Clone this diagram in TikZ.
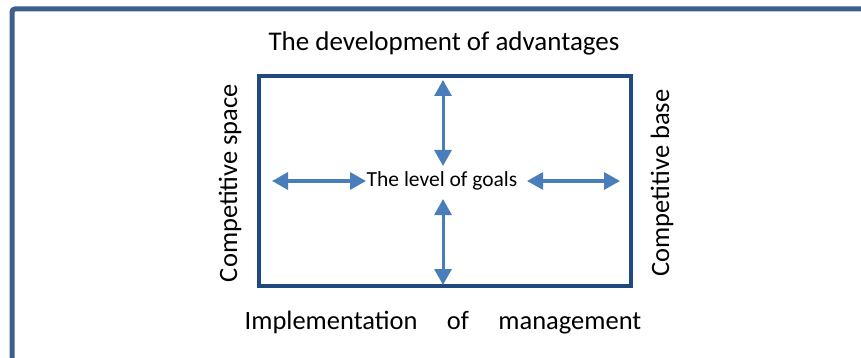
\documentclass[tikz,border=0pt]{standalone}
\usepackage{fontspec}
\setmainfont{Carlito}
\usetikzlibrary{arrows.meta}
\definecolor{frameblue}{HTML}{3D5F8E}
\definecolor{boxblue}{HTML}{1F4A80}
\definecolor{arrowblue}{HTML}{4A7EBB}
\tikzset{
  dbl/.style={arrowblue,line width=3pt,{Triangle[length=16pt,width=17pt]}-{Triangle[length=16pt,width=17pt]}},
  lbl/.style={inner sep=0pt,font=\fontsize{26.5}{30}\selectfont},
}
\begin{document}
\begin{tikzpicture}[x=1pt,y=-1pt]
\useasboundingbox (0,0) rectangle (861,358);
\clip (0,0) rectangle (861,358);
\draw[frameblue,line width=5pt,rounded corners=3pt] (12,9) rectangle (900,420);
\node[draw=boxblue,line width=4.8pt,minimum width=372pt,minimum height=210pt,inner sep=0pt] (box) at (445,181) {};
\node[inner sep=2pt,font=\fontsize{21.5}{24}\selectfont] (goal) at (442,181) {The level of goals};
\node[lbl,font=\fontsize{27}{30}\selectfont] (top) at (444,43) {The development of advantages};
\node[lbl] (bot) at (443,323) {Implementation\hspace{29.5pt}of\hspace{29.5pt}management};
\node[lbl,rotate=90] (left) at (230,183) {Competitive space};
\node[lbl,rotate=90] (right) at (662,183) {Competitive base};
\coordinate (t1) at (443,80);
\coordinate (t2) at (443,166);
\coordinate (b1) at (443,199);
\coordinate (b2) at (443,285);
\coordinate (l1) at (272,181);
\coordinate (l2) at (366,181);
\coordinate (r1) at (527,181);
\coordinate (r2) at (620,181);
\draw[dbl] (t1) -- (t2);
\draw[dbl] (b1) -- (b2);
\draw[dbl] (l1) -- (l2);
\draw[dbl] (r1) -- (r2);
\end{tikzpicture}
\end{document}
